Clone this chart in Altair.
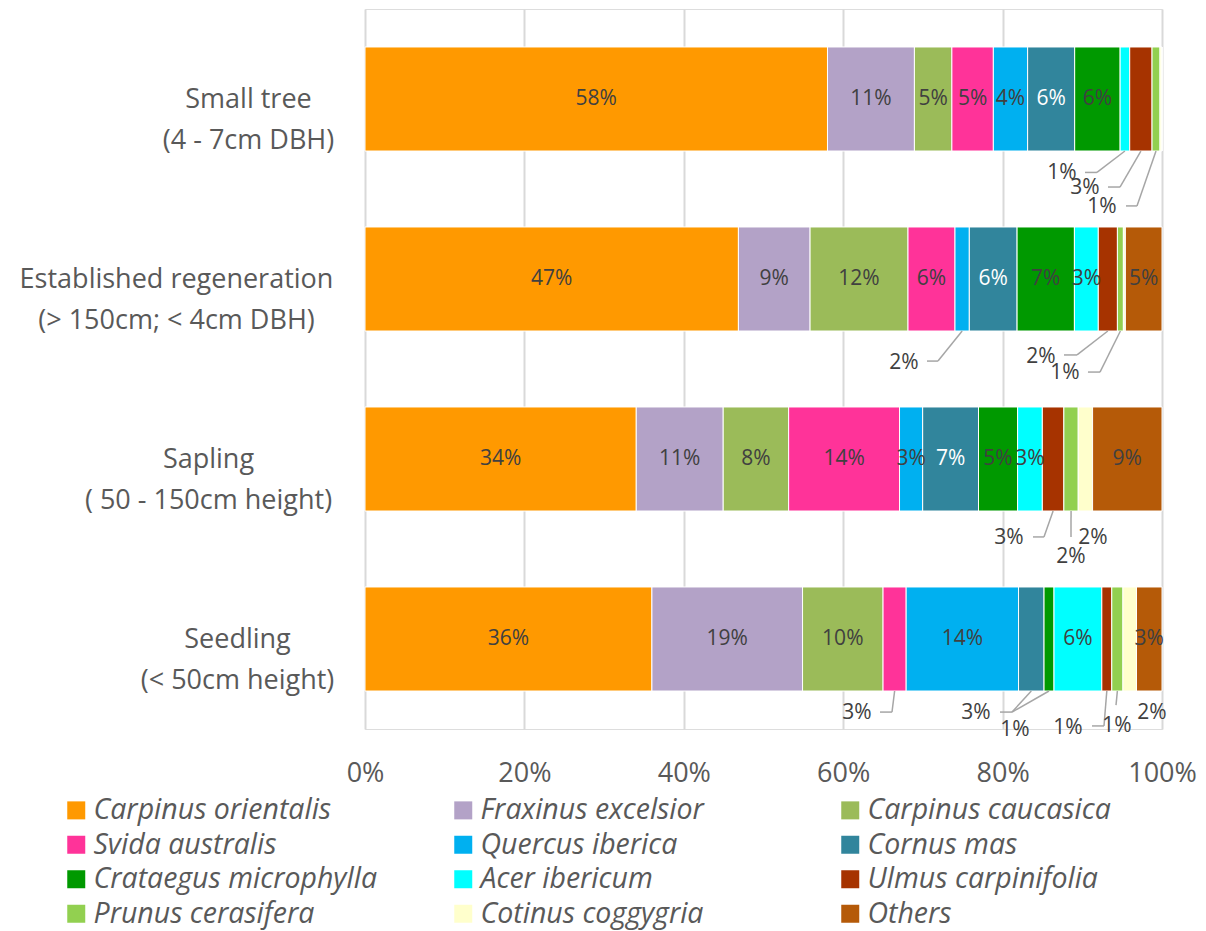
import altair as alt
import pandas as pd

# ---------------- data ----------------
categories = [
    "Small tree|(4 - 7cm DBH)",
    "Established regeneration|(> 150cm; < 4cm DBH)",
    "Sapling|( 50 - 150cm height)",
    "Seedling|(< 50cm height)",
]
species = [
    "Carpinus orientalis", "Fraxinus excelsior", "Carpinus caucasica",
    "Svida australis", "Quercus iberica", "Cornus mas",
    "Crataegus microphylla", "Acer ibericum", "Ulmus carpinifolia",
    "Prunus cerasifera", "Cotinus coggygria", "Others",
]
colors = [
    "#FF9900", "#B3A2C7", "#9BBB59",
    "#FF3399", "#00B0F0", "#31859C",
    "#009900", "#00FFFF", "#A63300",
    "#92D050", "#FFFFCC", "#B55A08",
]
# shares (%) per category: Small tree, Established, Sapling, Seedling
carpinus_orientalis = [58.0, 46.9, 34.0, 36.0]
fraxinus_excelsior = [10.9, 9.0, 10.9, 18.9]
carpinus_caucasica = [4.7, 12.3, 8.2, 10.1]
svida_australis = [5.2, 5.9, 13.9, 2.9]
quercus_iberica = [4.3, 1.8, 2.9, 14.1]
cornus_mas = [5.9, 6.0, 7.0, 3.2]
crataegus_microphylla = [5.7, 7.2, 4.9, 1.25]
acer_ibericum = [1.2, 3.0, 3.1, 6.0]
ulmus_carpinifolia = [2.8, 2.4, 2.7, 1.25]
prunus_cerasifera = [1.0, 0.75, 1.8, 1.4]
cotinus_coggygria = [0.25, 0.25, 1.8, 1.7]
others = [0.0, 4.6, 8.7, 3.2]

series = [
    carpinus_orientalis, fraxinus_excelsior, carpinus_caucasica,
    svida_australis, quercus_iberica, cornus_mas,
    crataegus_microphylla, acer_ibericum, ulmus_carpinifolia,
    prunus_cerasifera, cotinus_coggygria, others,
]

# ---------------- layout (annotation placement) ----------------
BAR_HALF = 0.289  # half bar thickness, in category units
# callouts: (category idx, species, label x %, label y offset,
#            elbow x %, elbow y offset, end x %)   None = no leader line
callouts = [
    (0, "Acer ibericum", 87.45, 0.411, 91.84, 0.408, 90.34),
    (0, "Ulmus carpinifolia", 90.34, 0.494, 94.73, 0.489, 93.22),
    (0, "Prunus cerasifera", 92.47, 0.600, 96.86, 0.594, 95.48),
    (1, "Quercus iberica", 67.63, 0.467, 71.89, 0.456, 70.51),
    (1, "Ulmus carpinifolia", 84.82, 0.433, 89.34, 0.422, 87.70),
    (1, "Prunus cerasifera", 87.83, 0.522, 92.22, 0.517, 90.71),
    (2, "Ulmus carpinifolia", 80.80, 0.439, 85.19, 0.433, 83.81),
    (2, "Prunus cerasifera", 88.58, 0.544, 88.58, 0.433, 88.58),
    (2, "Cotinus coggygria", 91.34, 0.439, None, None, None),
    (3, "Svida australis", 61.73, 0.411, 66.12, 0.406, 64.62),
    (3, "Cornus mas", 76.66, 0.411, 81.18, 0.406, 79.67),
    (3, "Crataegus microphylla", 81.56, 0.506, 81.18, 0.406, 81.18),
    (3, "Ulmus carpinifolia", 88.21, 0.494, 92.72, 0.483, 91.22),
    (3, "Prunus cerasifera", 94.35, 0.483, 94.23, 0.367, 94.23),
    (3, "Cotinus coggygria", 98.75, 0.411, None, None, None),
]
LABEL_PAD = [117, 189, 157, 128]

# ---------------- build tables ----------------
rows = []
for ci in range(len(categories)):
    total = sum(s[ci] for s in series)
    cum = 0.0
    for si, sp in enumerate(species):
        v = series[si][ci]
        v0 = cum / total
        cum += v
        v1 = cum / total
        rows.append(dict(cat=ci, species=sp, order=si, v0=v0, v1=v1,
                         mid=(v0 + v1) / 2, share=v / total,
                         y0=ci - BAR_HALF, y1=ci + BAR_HALF))
df = pd.DataFrame(rows)

call_keys = {(c[0], c[1]) for c in callouts}
inside = df[(df["share"] >= 0.005) &
            ~df.apply(lambda r: (r["cat"], r["species"]) in call_keys, axis=1)]

crow = []
for ci, sp, lx, ly, ex, ey, hx in callouts:
    r = df[(df["cat"] == ci) & (df["species"] == sp)].iloc[0]
    d = dict(cat=ci, species=sp, share=r["share"], lx=lx / 100, ly=ci + ly,
             has_line=ex is not None)
    if ex is not None:
        d.update(sx=r["mid"], sy=ci + BAR_HALF, ex=ex / 100, ey=ci + ey, hx=hx / 100)
    crow.append(d)
cdf = pd.DataFrame(crow)
ldf = cdf[cdf["has_line"]]

# ---------------- scales / axes ----------------
FONT = "Open Sans"
xscale = alt.Scale(domain=[0, 1], nice=False, zero=False)
yscale = alt.Scale(domain=[-0.5, 3.5], reverse=True, nice=False, zero=False)

label_arr = "[" + ",".join("'" + c + "'" for c in categories) + "]"
pad_cond = {
    "condition": [
        {"test": "datum.value == 1", "value": LABEL_PAD[1]},
        {"test": "datum.value == 2", "value": LABEL_PAD[2]},
        {"test": "datum.value == 3", "value": LABEL_PAD[3]},
    ],
    "value": LABEL_PAD[0],
}

xaxis = alt.Axis(
    values=[0, 0.2, 0.4, 0.6, 0.8, 1.0], format=".0%", title=None,
    domain=False, ticks=False, grid=True, gridColor="#D9D9D9", gridWidth=2,
    labelFont=FONT, labelFontSize=27, labelColor="#595959", labelPadding=31,
    labelFlush=False, labelOverlap=False,
)
yaxis = alt.Axis(
    values=[0, 1, 2, 3], title=None, domain=False, ticks=False, grid=False,
    labelExpr="split(" + label_arr + "[datum.value], '|')",
    labelFont=FONT, labelFontSize=27, labelColor="#595959",
    labelAlign="center", labelBaseline="middle", labelLineHeight=41,
    labelPadding=pad_cond, labelLimit=0,
)

bars = alt.Chart(df).mark_rect(stroke="white", strokeWidth=1).encode(
    x=alt.X("v0:Q", scale=xscale, axis=xaxis),
    x2="v1:Q",
    y=alt.Y("y0:Q", scale=yscale, axis=yaxis),
    y2="y1:Q",
    color=alt.Color(
        "species:N",
        scale=alt.Scale(domain=species, range=colors),
        legend=alt.Legend(
            orient="none", legendX=-303, legendY=787, title=None,
            direction="horizontal",
            columns=3, gridAlign="all", columnPadding=72, rowPadding=5.5,
            symbolType="square", symbolSize=324, symbolStrokeWidth=0,
            symbolOpacity=1, labelFont=FONT, labelFontStyle="italic",
            labelFontSize=28.5, labelColor="#595959", labelOffset=3,
            labelLimit=500, padding=0,
        ),
    ),
    order=alt.Order("order:Q"),
)

inside_text = alt.Chart(inside).mark_text(
    font=FONT, fontSize=21, baseline="middle", align="center"
).encode(
    x=alt.X("mid:Q", scale=xscale),
    y=alt.Y("cat:Q", scale=yscale),
    text=alt.Text("share:Q", format=".0%"),
    color=alt.condition("datum.species == 'Cornus mas'",
                        alt.value("#FFFFFF"), alt.value("#404040")),
)

lead1 = alt.Chart(ldf).mark_rule(color="#A6A6A6", strokeWidth=1.5).encode(
    x=alt.X("sx:Q", scale=xscale), x2="ex:Q",
    y=alt.Y("sy:Q", scale=yscale), y2="ey:Q",
)
lead2 = alt.Chart(ldf).mark_rule(color="#A6A6A6", strokeWidth=1.5).encode(
    x=alt.X("ex:Q", scale=xscale), x2="hx:Q",
    y=alt.Y("ey:Q", scale=yscale), y2="ey:Q",
)
call_text = alt.Chart(cdf).mark_text(
    font=FONT, fontSize=21, baseline="middle", align="center", color="#404040"
).encode(
    x=alt.X("lx:Q", scale=xscale),
    y=alt.Y("ly:Q", scale=yscale),
    text=alt.Text("share:Q", format=".0%"),
)

chart = alt.layer(bars, inside_text, lead1, lead2, call_text).properties(
    width=797, height=720,
    autosize=alt.AutoSizeParams(type="none"),
    padding={"left": 357, "top": 1, "right": 36, "bottom": 208},
).configure_view(stroke=None).configure(background="white")

chart.save("out.html", embed_options={"renderer": "svg", "actions": False})
